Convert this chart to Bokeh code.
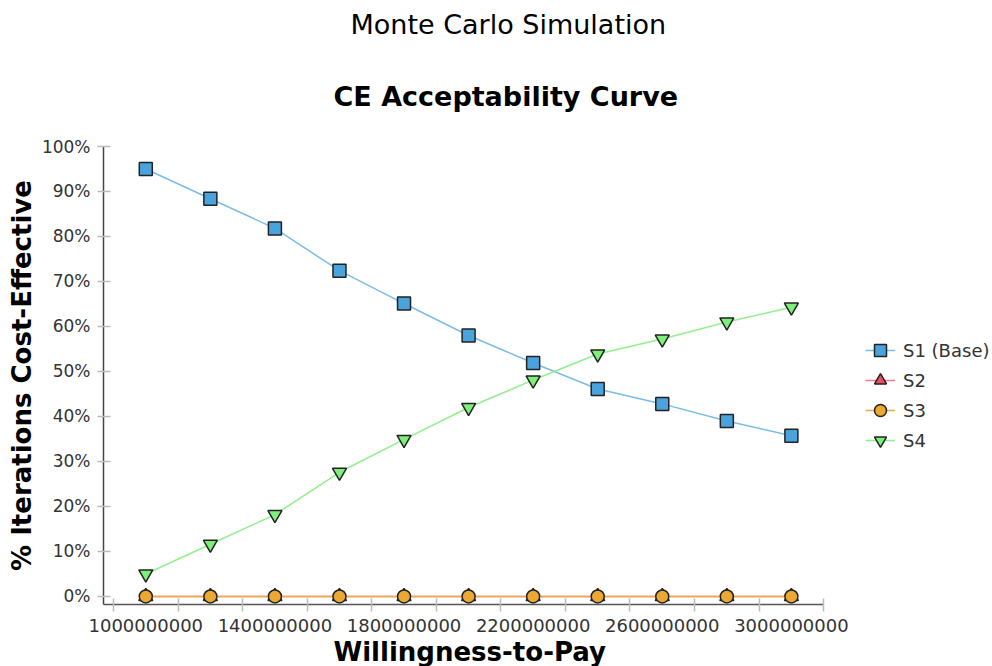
from bokeh.plotting import figure
from bokeh.models import (Range1d, FixedTicker, PrintfTickFormatter, CustomJSTickFormatter,
                          Legend, LegendItem, Title)
from bokeh.embed import file_html
from bokeh.resources import INLINE

wtp = [1000000000, 1200000000, 1400000000, 1600000000, 1800000000, 2000000000,
       2200000000, 2400000000, 2600000000, 2800000000, 3000000000]
s1 = [95.0, 88.4, 81.8, 72.4, 65.1, 58.0, 51.9, 46.1, 42.8, 39.0, 35.7]
s2 = [0, 0, 0, 0, 0, 0, 0, 0, 0, 0, 0]
s3 = [0, 0, 0, 0, 0, 0, 0, 0, 0, 0, 0]
s4 = [5.0, 11.6, 18.2, 27.6, 34.9, 42.0, 48.1, 53.9, 57.2, 61.0, 64.3]
series_names = ["S1 (Base)", "S2", "S3", "S4"]
x_label_ticks = [1000000000, 1400000000, 1800000000, 2200000000, 2600000000, 3000000000]
x_bound_ticks = [900000000, 1100000000, 1300000000, 1500000000, 1700000000, 1900000000,
                 2100000000, 2300000000, 2500000000, 2700000000, 2900000000, 3100000000]
y_ticks = [0, 10, 20, 30, 40, 50, 60, 70, 80, 90, 100]

X_AXIS_START = 869000000
X_AXIS_END = 3100000000
X_VIEW_END = 3623000000   # extra room on the right of the frame for the legend

FONT = "DejaVu Sans"

p = figure(width=992, height=666, output_backend="svg", toolbar_location=None,
           x_range=Range1d(X_AXIS_START, X_VIEW_END), y_range=Range1d(-1.78, 100),
           min_border_left=103, min_border_right=0, min_border_top=146, min_border_bottom=62)
p.outline_line_color = None
p.xgrid.visible = False
p.ygrid.visible = False
p.background_fill_color = "white"
p.border_fill_color = "white"

# titles: the chart title nearest the frame, the main title above it
p.add_layout(Title(text="CE Acceptability Curve", align="left", offset=230,
                   text_font=FONT, text_font_size="27px", text_font_style="bold",
                   text_color="black", standoff=69), "above")
p.add_layout(Title(text="Monte Carlo Simulation", align="left", offset=247,
                   text_font=FONT, text_font_size="27px", text_font_style="normal",
                   text_color="black", standoff=10), "above")

# x axis
xa = p.xaxis[0]
xa.bounds = (X_AXIS_START, X_AXIS_END)
xa.ticker = FixedTicker(ticks=x_label_ticks, minor_ticks=x_bound_ticks)
xa.formatter = CustomJSTickFormatter(code="return tick.toFixed(0);")
xa.major_tick_line_color = None
xa.major_tick_in = 0
xa.major_tick_out = 0
xa.minor_tick_line_color = "#bbbbbb"
xa.minor_tick_line_width = 1.5
xa.minor_tick_in = 6
xa.minor_tick_out = 7
xa.axis_line_color = "#555555"
xa.axis_line_width = 1.5
xa.major_label_standoff = 7
xa.major_label_text_font = FONT
xa.major_label_text_font_size = "18px"
xa.major_label_text_color = "#333333"

# x axis title, centred under the axis line (not under the whole frame)
p.add_layout(Title(text="Willingness-to-Pay", align="left", offset=230,
                   text_font=FONT, text_font_size="26px", text_font_style="bold",
                   text_color="black", standoff=0), "below")

# y axis
ya = p.yaxis[0]
ya.ticker = FixedTicker(ticks=y_ticks)
ya.formatter = PrintfTickFormatter(format="%d%%")
ya.minor_tick_line_color = None
ya.major_tick_line_color = "#bbbbbb"
ya.major_tick_line_width = 1.5
ya.major_tick_in = 7
ya.major_tick_out = 6
ya.axis_line_color = "#444444"
ya.axis_line_width = 1.5
ya.major_label_standoff = 7
ya.major_label_text_font = FONT
ya.major_label_text_font_size = "17px"
ya.major_label_text_color = "#333333"
ya.axis_label = "% Iterations Cost-Effective"
ya.axis_label_text_font = FONT
ya.axis_label_text_font_size = "26px"
ya.axis_label_text_font_style = "bold"
ya.axis_label_text_color = "black"
ya.axis_label_standoff = 2

# series
l1 = p.line(wtp, s1, line_color="#7abce8", line_width=1.5)
m1 = p.scatter(wtp, s1, marker="square", size=13, fill_color="#4ba3dd",
               line_color="#222222", line_width=1.5)
l2 = p.line(wtp, s2, line_color="#f07c8a", line_width=1.5)
m2 = p.scatter(wtp, s2, marker="triangle", size=14, fill_color="#e8505f",
               line_color="#222222", line_width=1.5)
l3 = p.line(wtp, s3, line_color="#eaaa4a", line_width=1.5)
m3 = p.scatter(wtp, s3, marker="circle", size=13, fill_color="#eba833",
               line_color="#222222", line_width=1.5)
l4 = p.line(wtp, s4, line_color="#90f08c", line_width=1.5)
m4 = p.scatter(wtp, s4, marker="inverted_triangle", size=14, fill_color="#7ef07a",
               line_color="#222222", line_width=1.5)

legend = Legend(items=[
    LegendItem(label=series_names[0], renderers=[l1, m1]),
    LegendItem(label=series_names[1], renderers=[l2, m2]),
    LegendItem(label=series_names[2], renderers=[l3, m3]),
    LegendItem(label=series_names[3], renderers=[l4, m4]),
], location=(762, 149), orientation="vertical", border_line_color=None,
   background_fill_alpha=0, padding=0, margin=0, spacing=0,
   glyph_width=30, glyph_height=30, label_height=20, label_standoff=8,
   label_text_font=FONT, label_text_font_size="18px", label_text_color="#333333")
p.add_layout(legend, "center")

open("out.html", "w").write(file_html(p, INLINE))
